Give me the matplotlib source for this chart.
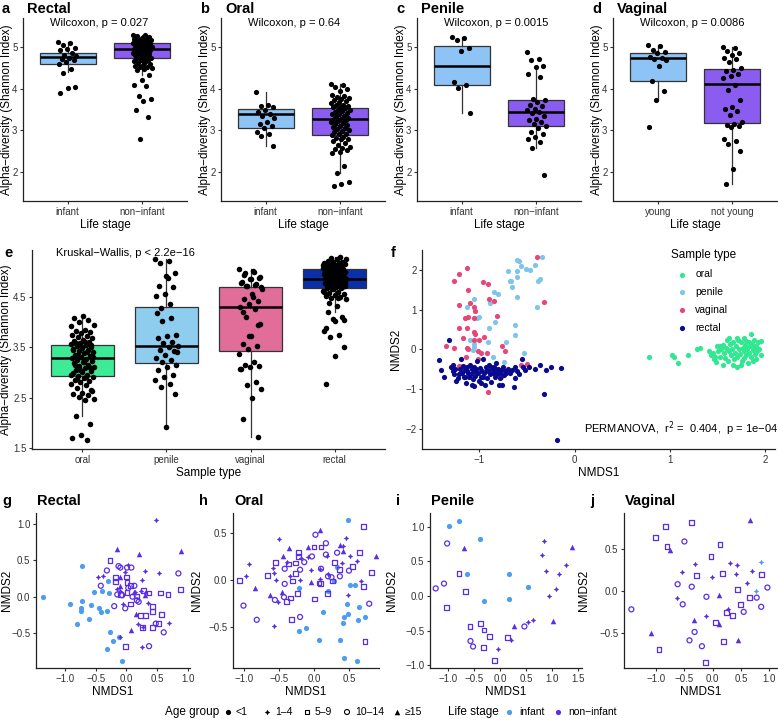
import numpy as np
import matplotlib
matplotlib.use('Agg')
import matplotlib.pyplot as plt

plt.rcParams['font.family'] = ['Liberation Sans', 'DejaVu Sans']

W, H = 778, 721

# ---------------- data: alpha diversity (Shannon) ----------------
rectal_inf = [5.13, 5.1, 5.05, 4.98, 4.95, 4.93, 4.85, 4.8, 4.78, 4.75, 4.72, 4.7,
              4.65, 4.6, 4.48, 4.37, 4.05, 4.02, 3.89]
rectal_non = [5.3, 5.28, 5.26, 5.25, 5.22, 5.2, 5.2, 5.18, 5.17, 5.15, 5.15, 5.13, 5.12,
              5.1, 5.1, 5.08, 5.07, 5.05, 5.05, 5.03, 5.02, 5.0, 5.0, 4.99, 4.98, 4.97,
              4.96, 4.95, 4.95, 4.94, 4.92, 4.9, 4.9, 4.88, 4.87, 4.85, 4.85, 4.83, 4.82,
              4.8, 4.78, 4.77, 4.75, 4.73, 4.72, 4.7, 4.68, 4.67, 4.65, 4.62, 4.6, 4.58,
              4.55, 4.53, 4.52, 4.5, 4.48, 4.45, 4.32, 4.2, 4.1, 4.07, 3.82, 3.75, 3.7,
              3.5, 3.32, 2.78]
oral_inf = [3.93, 3.6, 3.58, 3.55, 3.5, 3.45, 3.4, 3.35, 3.3, 3.2, 3.15, 3.1, 3.05,
            2.95, 2.9, 2.87, 2.63]
oral_non = [4.12, 4.08, 4.05, 4.0, 3.95, 3.85, 3.82, 3.8, 3.78, 3.75, 3.72, 3.7, 3.68,
            3.65, 3.62, 3.6, 3.58, 3.56, 3.55, 3.53, 3.5, 3.48, 3.46, 3.45, 3.42, 3.4,
            3.38, 3.35, 3.33, 3.3, 3.28, 3.27, 3.25, 3.22, 3.2, 3.18, 3.15, 3.12, 3.1,
            3.08, 3.05, 3.02, 3.0, 2.98, 2.95, 2.92, 2.9, 2.88, 2.85, 2.82, 2.8, 2.78,
            2.75, 2.7, 2.65, 2.6, 2.57, 2.55, 2.52, 2.48, 2.45, 2.13, 1.97, 1.75, 1.7, 1.66]
penile_inf = [5.25, 5.22, 5.18, 4.97, 4.91, 4.17, 4.08, 4.02, 3.41]
penile_non = [4.88, 4.72, 4.7, 4.55, 4.52, 4.35, 4.27, 3.75, 3.72, 3.68, 3.6, 3.58, 3.52,
              3.5, 3.45, 3.42, 3.35, 3.28, 3.25, 3.2, 3.15, 3.1, 3.05, 2.95, 2.9, 2.85,
              2.78, 2.72, 2.57, 1.92]
vaginal_young = [5.05, 5.02, 4.93, 4.88, 4.85, 4.77, 4.74, 4.72, 4.7, 4.55, 4.19, 3.94,
                 3.72, 3.07]
vaginal_old = [5.0, 4.97, 4.9, 4.85, 4.8, 4.75, 4.72, 4.65, 4.5, 4.45, 4.42, 4.35, 4.3,
               4.25, 4.1, 3.97, 3.72, 3.57, 3.52, 3.47, 3.37, 3.2, 3.15, 3.12, 3.1, 3.07,
               2.8, 2.75, 2.67, 2.5, 2.07, 1.72]

# box stats: q1, median, q3, whisker low, whisker high
box_a = [(4.60, 4.76, 4.87, 4.40, 5.13), (4.73, 4.96, 5.09, 4.32, 5.30)]
box_b = [(3.06, 3.38, 3.51, 2.63, 3.93), (2.89, 3.28, 3.54, 1.97, 4.12)]
box_c = [(4.09, 4.54, 5.03, 3.41, 5.25), (3.10, 3.44, 3.73, 2.57, 4.55)]
box_d = [(4.18, 4.73, 4.87, 3.72, 5.05), (3.17, 4.12, 4.47, 1.72, 5.00)]
box_e = [(2.93, 3.29, 3.54, 2.13, 4.12), (3.18, 3.52, 4.30, 1.92, 5.25),
         (3.43, 4.30, 4.69, 1.72, 5.05), (4.68, 4.85, 5.05, 4.20, 5.30)]

sample_types = ['oral', 'penile', 'vaginal', 'rectal']

# ---------------- data: NMDS all samples (panel f) ----------------
f_oral = [(0.78, -0.20), (1.02, -0.13), (1.04, -0.20), (1.08, -0.33), (1.19, -0.14),
          (1.28, 0.0), (1.31, 0.04), (1.41, -0.05), (1.43, -0.15), (1.45, -0.10),
          (1.46, -0.25), (1.48, -0.32), (1.49, 0.08), (1.50, -0.05), (1.52, -0.18),
          (1.53, 0.0), (1.55, -0.38), (1.55, 0.12), (1.57, -0.10), (1.58, -0.22),
          (1.59, 0.05), (1.60, 0.25), (1.61, -0.30), (1.62, -0.05), (1.63, 0.15),
          (1.64, -0.15), (1.65, 0.02), (1.66, 0.20), (1.67, -0.25), (1.68, -0.08),
          (1.69, 0.10), (1.70, -0.45), (1.70, -0.18), (1.71, 0.25), (1.72, 0.0),
          (1.73, -0.12), (1.74, 0.18), (1.75, -0.30), (1.76, 0.05), (1.77, -0.05),
          (1.78, 0.28), (1.78, -0.22), (1.79, 0.12), (1.80, -0.15), (1.81, 0.0),
          (1.82, -0.35), (1.83, 0.20), (1.83, -0.08), (1.84, 0.08), (1.85, 0.40),
          (1.85, -0.20), (1.86, 0.15), (1.87, -0.02), (1.87, -0.28), (1.88, 0.25),
          (1.88, 0.05), (1.89, -0.12), (1.90, 0.10), (1.90, -0.25), (1.91, -0.05),
          (1.92, 0.18), (1.93, 0.02), (1.95, 0.22), (1.95, -0.15), (1.74, -0.38),
          (1.66, -0.40), (1.60, 0.0), (1.52, 0.10), (1.47, -0.18), (1.80, 0.22),
          (1.70, 0.30), (1.62, 0.28)]
f_penile = [(-0.60, 2.25), (-0.58, 2.23), (-0.56, 2.10), (-0.60, 1.96), (-0.51, 2.02),
            (-0.47, 2.00), (-0.42, 2.13), (-0.34, 2.32), (-0.36, 1.77), (-0.38, 1.71),
            (-0.70, 1.96), (-0.60, 1.83), (-0.68, 1.72), (-0.67, 1.72), (-0.66, 1.56),
            (-0.60, 1.31), (-0.85, 1.44), (-0.80, 1.39), (-0.89, 1.16), (-0.39, 1.08),
            (-1.05, 1.27), (-1.13, 1.08), (-1.02, 0.78), (-1.00, 0.81), (-0.83, 0.68),
            (-0.90, 0.55), (-0.63, 0.61), (-0.63, 0.36), (-0.91, 0.19), (-0.72, 0.19),
            (-1.05, 0.13), (-1.05, 0.07), (-1.07, -0.02), (-0.86, -0.20), (-0.74, -0.31),
            (-0.53, -0.10), (-1.10, 0.24)]
f_vaginal = [(-0.39, 2.32), (-1.13, 2.04), (-1.21, 1.90), (-1.26, 1.72), (-1.12, 1.50),
             (-0.96, 1.69), (-0.91, 1.64), (-0.90, 1.26), (-0.85, 1.23), (-0.32, 1.20),
             (-1.21, 1.13), (-1.10, 1.16), (-1.05, 1.08), (-1.04, 0.97), (-1.12, 0.81),
             (-1.15, 0.78), (-1.06, 0.78), (-0.81, 0.84), (-1.13, 0.55), (-1.21, 0.53),
             (-1.05, 0.45), (-1.04, 0.40), (-0.95, 0.32), (-1.17, 0.28), (-1.06, 0.25),
             (-1.00, 0.24), (-1.35, 0.08), (-1.26, 0.05), (-1.13, 0.05), (-1.12, 0.01),
             (-1.01, -0.03), (-0.98, -0.08), (-0.92, -0.10), (-0.76, 0.08), (-0.73, -0.03),
             (-1.14, -0.20), (-1.01, -0.23), (-1.21, -0.42), (-0.50, -0.37), (-0.56, -0.39),
             (-0.77, -0.69), (-0.91, -1.07)]
f_rectal = [(-1.42, -0.27), (-1.40, -0.52), (-1.37, -0.68), (-1.32, 0.24), (-1.30, -0.45),
            (-1.28, -0.55), (-1.26, -0.62), (-1.25, -0.48), (-1.24, -0.78), (-1.22, -0.72),
            (-1.20, -0.50), (-1.19, -0.25), (-1.18, -0.60), (-1.17, -0.42), (-1.16, -0.68),
            (-1.15, -0.52), (-1.14, -0.83), (-1.13, -0.45), (-1.12, -0.58), (-1.11, -0.70),
            (-1.10, -0.38), (-1.09, -0.62), (-1.08, -0.50), (-1.07, -0.75), (-1.06, -0.44),
            (-1.05, -0.92), (-1.05, -0.55), (-1.04, -0.66), (-1.03, -0.48), (-1.02, -0.30),
            (-1.01, -0.58), (-1.00, -0.80), (-0.99, -0.46), (-0.98, -0.68), (-0.97, -0.53),
            (-0.96, -0.25), (-0.95, -0.60), (-0.94, -0.90), (-0.93, -0.45), (-0.92, -0.72),
            (-0.91, -0.55), (-0.90, -0.40), (-0.89, -0.62), (-0.88, -0.82), (-0.87, -0.50),
            (-0.86, -0.60), (-0.85, -0.45), (-0.84, -0.70), (-0.83, -0.55), (-0.82, -0.35),
            (-0.81, -0.62), (-0.80, -0.48), (-0.79, -0.90), (-0.78, -0.58), (-0.77, -0.52),
            (-0.76, -0.88), (-0.75, -0.45), (-0.74, -0.65), (-0.73, -0.55), (-0.72, -0.60),
            (-0.70, -0.48), (-0.68, -0.58), (-0.66, -0.52), (-0.64, -0.95), (-0.63, -0.72),
            (-0.62, -0.45), (-0.60, -0.55), (-0.58, -0.62), (-0.55, -0.25), (-0.54, -0.45),
            (-0.52, -0.52), (-0.48, -0.45), (-0.42, -0.48), (-0.36, -0.40), (-0.32, -1.13),
            (-0.30, -0.52), (-0.25, -0.45), (-0.14, -0.47), (-0.18, -2.27), (-1.21, -0.62),
            (-1.15, -0.70), (-1.08, -0.88), (-0.98, -0.85), (-1.27, -0.40), (-0.92, -0.52),
            (-0.88, -0.45), (-0.78, -0.72), (-1.13, -0.55), (-1.02, -0.60), (-0.96, -0.70)]

# ---------------- data: NMDS per site, (x, y, age group, life stage) ----------------
# age: 0 '<1', 1 '1-4', 2 '5-9', 3 '10-14', 4 '>=15'; stage: 'I' infant, 'N' non-infant
g_pts = [(-1.36, -0.01, 0, 'I'), (-0.92, -0.10, 0, 'I'), (-0.73, 0.42, 0, 'I'), (-0.73, -0.06, 0, 'I'),
         (-0.75, -0.16, 0, 'I'), (-0.75, -0.20, 0, 'I'), (-0.81, -0.37, 0, 'I'), (-0.62, -0.30, 0, 'I'),
         (-0.58, -0.11, 0, 'I'), (-0.53, 0.06, 0, 'I'), (-0.45, -0.15, 0, 'I'), (-0.42, -0.21, 0, 'I'),
         (-0.40, 0.08, 0, 'I'), (-0.32, -0.20, 0, 'I'), (-0.31, 0.21, 0, 'I'), (-0.29, 0.05, 0, 'I'),
         (-0.27, -0.48, 0, 'I'), (-0.22, -0.61, 0, 'I'), (-0.32, -0.72, 0, 'I'), (-0.12, -0.56, 0, 'I'),
         (-0.07, -0.88, 0, 'I'),
         (0.48, 1.05, 1, 'N'), (-0.03, 0.34, 1, 'N'), (-0.47, 0.27, 1, 'N'), (-0.38, 0.28, 1, 'N'),
         (0.31, 0.35, 1, 'N'), (0.54, 0.33, 1, 'N'), (0.26, 0.23, 1, 'N'), (-0.10, 0.08, 1, 'N'),
         (0.14, 0.07, 1, 'N'), (0.24, 0.08, 1, 'N'), (-0.06, -0.10, 1, 'N'), (0.35, -0.09, 1, 'N'),
         (0.19, -0.38, 1, 'N'), (0.27, -0.42, 1, 'N'), (0.69, -0.36, 1, 'N'), (-0.10, -0.56, 1, 'N'),
         (0.25, -0.69, 1, 'N'), (0.02, 0.43, 1, 'N'), (-0.15, 0.11, 1, 'N'), (0.30, 0.05, 1, 'N'),
         (-0.16, 0.66, 4, 'N'), (0.20, 0.58, 4, 'N'), (0.90, 0.63, 4, 'N'), (-0.11, 0.14, 4, 'N'),
         (0.12, 0.06, 4, 'N'), (0.16, -0.24, 4, 'N'), (0.08, -0.46, 4, 'N'), (0.31, 0.02, 4, 'N'),
         (-0.10, 0.27, 4, 'N'),
         (-0.27, 0.50, 2, 'N'), (-0.18, 0.26, 2, 'N'), (-0.18, 0.21, 2, 'N'), (0.0, 0.27, 2, 'N'),
         (0.01, 0.20, 2, 'N'), (0.01, 0.06, 2, 'N'), (0.07, 0.15, 2, 'N'), (0.07, -0.10, 2, 'N'),
         (0.17, 0.01, 2, 'N'), (0.23, -0.26, 2, 'N'), (0.31, -0.26, 2, 'N'), (0.26, -0.42, 2, 'N'),
         (0.37, 0.05, 2, 'N'), (0.43, -0.14, 2, 'N'), (0.43, -0.20, 2, 'N'), (0.42, -0.42, 2, 'N'),
         (0.56, 0.05, 2, 'N'), (0.68, 0.03, 2, 'N'), (0.89, 0.10, 2, 'N'), (0.57, -0.24, 2, 'N'),
         (0.53, -0.37, 2, 'N'), (-0.02, -0.68, 2, 'N'), (-0.10, 0.03, 2, 'N'), (0.28, 0.08, 2, 'N'),
         (-0.32, 0.36, 3, 'N'), (-0.13, 0.42, 3, 'N'), (-0.10, 0.40, 3, 'N'), (0.01, 0.40, 3, 'N'),
         (0.08, 0.40, 3, 'N'), (-0.42, 0.15, 3, 'N'), (-0.20, -0.13, 3, 'N'), (-0.02, -0.16, 3, 'N'),
         (0.03, 0.12, 3, 'N'), (0.13, 0.15, 3, 'N'), (-0.15, 0.03, 3, 'N'), (-0.07, 0.02, 3, 'N'),
         (0.17, -0.05, 3, 'N'), (0.20, -0.07, 3, 'N'), (0.48, -0.37, 3, 'N'), (0.61, -0.49, 3, 'N'),
         (0.37, -0.68, 3, 'N'), (0.85, 0.32, 3, 'N'), (0.10, 0.0, 3, 'N')]

h_pts = [(0.48, 0.64, 0, 'I'), (-0.22, -0.08, 0, 'I'), (0.20, -0.12, 0, 'I'), (0.33, 0.14, 0, 'I'),
         (0.13, -0.34, 0, 'I'), (-0.11, -0.51, 0, 'I'), (-0.22, -0.54, 0, 'I'), (0.07, -0.63, 0, 'I'),
         (0.37, -0.63, 0, 'I'), (0.43, -0.39, 0, 'I'), (0.47, -0.25, 0, 'I'), (0.49, -0.36, 0, 'I'),
         (0.42, -0.45, 0, 'I'), (0.51, -0.05, 0, 'I'), (0.58, -0.05, 0, 'I'), (0.64, -0.28, 0, 'I'),
         (0.63, -0.42, 0, 'I'), (0.73, -0.39, 0, 'I'), (0.43, -0.82, 0, 'I'), (0.62, -0.86, 0, 'I'),
         (0.28, -0.01, 0, 'I'),
         (-0.50, 0.43, 1, 'N'), (-0.93, 0.17, 1, 'N'), (-0.97, 0.04, 1, 'N'), (-0.59, 0.13, 1, 'N'),
         (-0.57, 0.08, 1, 'N'), (-0.55, 0.0, 1, 'N'), (-0.51, -0.23, 1, 'N'), (-0.58, -0.49, 1, 'N'),
         (-0.38, 0.19, 1, 'N'), (-0.35, 0.04, 1, 'N'), (-0.20, 0.0, 1, 'N'), (-0.19, 0.23, 1, 'N'),
         (-0.08, 0.24, 1, 'N'), (0.09, 0.12, 1, 'N'), (0.08, 0.01, 1, 'N'), (0.18, 0.26, 1, 'N'),
         (0.20, 0.06, 1, 'N'), (0.46, 0.45, 1, 'N'), (0.41, 0.36, 1, 'N'), (0.52, 0.26, 1, 'N'),
         (0.61, 0.20, 1, 'N'), (0.40, 0.18, 1, 'N'), (0.49, -0.16, 1, 'N'), (0.67, -0.01, 1, 'N'),
         (-0.05, 0.11, 1, 'N'),
         (-0.84, -0.08, 4, 'N'), (-0.63, -0.16, 4, 'N'), (-0.46, -0.13, 4, 'N'), (-0.36, 0.34, 4, 'N'),
         (-0.44, 0.26, 4, 'N'), (-0.09, 0.35, 4, 'N'), (0.09, 0.53, 4, 'N'), (-0.04, -0.02, 4, 'N'),
         (0.37, 0.37, 4, 'N'), (0.42, 0.31, 4, 'N'), (0.88, 0.26, 4, 'N'),
         (-1.07, 0.0, 2, 'N'), (-0.67, 0.05, 2, 'N'), (-0.55, 0.19, 2, 'N'), (-0.36, 0.17, 2, 'N'),
         (-0.39, -0.23, 2, 'N'), (-0.34, -0.19, 2, 'N'), (-0.31, -0.01, 2, 'N'), (-0.27, 0.07, 2, 'N'),
         (-0.26, 0.18, 2, 'N'), (-0.24, -0.14, 2, 'N'), (-0.22, 0.29, 2, 'N'), (-0.22, 0.25, 2, 'N'),
         (-0.32, -0.42, 2, 'N'), (0.01, -0.20, 2, 'N'), (0.0, 0.35, 2, 'N'), (0.10, 0.35, 2, 'N'),
         (0.07, -0.03, 2, 'N'), (0.09, -0.04, 2, 'N'), (0.19, -0.14, 2, 'N'), (0.26, -0.01, 2, 'N'),
         (0.29, 0.19, 2, 'N'), (0.37, 0.11, 2, 'N'), (0.55, 0.14, 2, 'N'), (0.65, 0.29, 2, 'N'),
         (0.71, 0.57, 2, 'N'), (0.82, 0.08, 2, 'N'), (0.71, -0.07, 2, 'N'), (0.73, -0.65, 2, 'N'),
         (-1.01, -0.27, 3, 'N'), (-0.82, -0.42, 3, 'N'), (-0.56, -0.21, 3, 'N'), (-0.43, -0.18, 3, 'N'),
         (-0.42, -0.04, 3, 'N'), (-0.42, 0.12, 3, 'N'), (-0.20, -0.39, 3, 'N'), (-0.20, 0.11, 3, 'N'),
         (-0.14, 0.19, 3, 'N'), (-0.03, 0.25, 3, 'N'), (0.02, 0.48, 3, 'N'), (0.17, 0.27, 3, 'N'),
         (0.17, 0.39, 3, 'N'), (0.10, 0.12, 3, 'N'), (0.20, 0.04, 3, 'N'), (0.33, 0.29, 3, 'N'),
         (0.37, 0.04, 3, 'N'), (0.50, 0.10, 3, 'N'), (0.79, -0.25, 3, 'N'), (0.25, 0.03, 3, 'N')]

i_pts = [(-0.98, 1.01, 0, 'I'), (-0.79, 1.08, 0, 'I'), (-0.39, 0.82, 0, 'I'), (-0.63, 0.32, 0, 'I'),
         (0.18, 0.32, 0, 'I'), (0.53, 0.13, 0, 'I'), (-0.30, -0.07, 0, 'I'), (0.17, -0.04, 0, 'I'),
         (0.84, 0.79, 1, 'N'), (0.81, 0.60, 1, 'N'), (0.89, 0.36, 1, 'N'), (1.28, 0.45, 1, 'N'),
         (1.13, 0.32, 1, 'N'), (1.08, 0.10, 1, 'N'), (0.95, 0.0, 1, 'N'), (0.63, -0.34, 1, 'N'),
         (0.54, -0.37, 1, 'N'), (0.21, -0.64, 1, 'N'), (-0.03, -0.76, 1, 'N'),
         (-0.70, 0.70, 4, 'N'), (1.39, 0.71, 4, 'N'), (0.26, -0.44, 4, 'N'), (1.02, -0.36, 4, 'N'),
         (-0.79, 0.33, 2, 'N'), (-0.66, 0.07, 2, 'N'), (-1.03, -0.17, 2, 'N'), (-0.58, -0.44, 2, 'N'),
         (-0.37, -0.40, 2, 'N'), (-0.31, -0.49, 2, 'N'), (-0.21, -0.59, 2, 'N'), (-0.32, -0.74, 2, 'N'),
         (-0.11, -0.93, 2, 'N'), (0.15, -0.60, 2, 'N'),
         (-1.02, 0.76, 3, 'N'), (-1.24, 0.11, 3, 'N'), (-1.08, 0.18, 3, 'N'), (-0.57, -0.65, 3, 'N'),
         (-0.52, -0.73, 3, 'N'), (0.47, -0.44, 3, 'N')]

j_pts = [(0.85, 0.35, 1, 'I'), (0.76, 0.0, 1, 'I'),
         (-0.32, 0.32, 1, 'N'), (-0.54, 0.23, 1, 'N'), (-0.01, 0.17, 1, 'N'), (0.31, 0.33, 1, 'N'),
         (0.44, 0.31, 1, 'N'), (0.41, 0.20, 1, 'N'), (0.69, 0.24, 1, 'N'), (0.61, 0.10, 1, 'N'),
         (-0.64, -0.08, 1, 'N'), (-0.12, -0.30, 1, 'N'), (0.28, -0.22, 1, 'N'),
         (0.67, 0.85, 4, 'N'), (-0.76, 0.49, 4, 'N'), (0.12, -0.05, 4, 'N'), (-0.33, -0.35, 4, 'N'),
         (0.11, -0.40, 4, 'N'), (-1.10, -0.50, 4, 'N'), (0.45, -0.59, 4, 'N'),
         (-0.37, 0.82, 2, 'N'), (-0.84, 0.77, 2, 'N'), (-1.01, 0.64, 2, 'N'), (-0.81, 0.53, 2, 'N'),
         (0.13, 0.55, 2, 'N'), (-0.03, 0.41, 2, 'N'), (-0.28, 0.18, 2, 'N'), (0.18, 0.21, 2, 'N'),
         (0.86, 0.20, 2, 'N'), (0.44, 0.02, 2, 'N'), (0.66, -0.08, 2, 'N'), (0.50, -0.16, 2, 'N'),
         (0.24, -0.26, 2, 'N'), (0.35, -0.29, 2, 'N'), (0.05, -0.38, 2, 'N'), (0.19, -0.60, 2, 'N'),
         (-0.95, -0.70, 2, 'N'), (-0.12, -0.85, 2, 'N'),
         (-0.50, 0.59, 3, 'N'), (-0.62, 0.08, 3, 'N'), (-0.37, 0.05, 3, 'N'), (-0.11, -0.07, 3, 'N'),
         (-1.44, -0.22, 3, 'N'), (-0.53, -0.16, 3, 'N'), (0.55, -0.25, 3, 'N'), (0.78, -0.08, 3, 'N'),
         (0.97, 0.04, 3, 'N'), (0.86, -0.19, 3, 'N'), (-0.32, -0.49, 3, 'N'), (-0.41, -0.59, 3, 'N'),
         (-0.19, -0.66, 3, 'N')]

age_labels = ['<1', '1–4', '5–9', '10–14', '≥15']
stage_labels = ['infant', 'non−infant']

# ---------------- style ----------------
c_inf_box, c_non_box = '#8EC3F5', '#8B5CF0'
box_cols_e = ['#3DEB97', '#8FCDEE', '#E16D99', '#0B2FA6']
pt_cols_f = ['#2FE890', '#7CC6EC', '#E6467A', '#0A0A8F']
c_inf, c_non = '#4C9CF0', '#5A2EE6'
markers = ['o', (4, 1, 0), 's', 'o', '^']
msizes = [14, 16, 12, 13, 16]
ylab = 'Alpha−diversity (Shannon Index)'


def pos(l, t, r, b):
    return [l / W, 1 - b / H, (r - l) / W, (b - t) / H]


def style(ax):
    for s in ['top', 'right']:
        ax.spines[s].set_visible(False)
    for s in ['left', 'bottom']:
        ax.spines[s].set_linewidth(0.9)
        ax.spines[s].set_color('#222222')
    ax.tick_params(labelsize=7, length=2.5, width=0.8, color='#333333', labelcolor='#333333', pad=1.5)


def jitter(n, w):
    # deterministic spread of the points around the category centre
    return ((np.arange(n) * 0.618034) % 1 - 0.5) * 2 * w


def boxes(ax, stats, cols):
    bx = [dict(q1=s[0], med=s[1], q3=s[2], whislo=s[3], whishi=s[4], fliers=[]) for s in stats]
    art = ax.bxp(bx, positions=range(1, len(stats) + 1), widths=0.75, patch_artist=True,
                 showcaps=False, showfliers=False,
                 boxprops=dict(edgecolor='#333333', linewidth=0.9),
                 whiskerprops=dict(color='#333333', linewidth=0.9),
                 medianprops=dict(color='black', linewidth=1.8))
    for p, c in zip(art['boxes'], cols):
        p.set_facecolor(c)


def labels(ax, xl, yl, ycoord):
    ax.set_xlabel(xl, fontsize=8.5, labelpad=2)
    ax.set_ylabel(yl, fontsize=8.5)
    ax.yaxis.set_label_coords(ycoord, 0.5)


fig = plt.figure(figsize=(W / 100, H / 100), dpi=100)

# ---------------- row 1: a-d ----------------
row1 = [('a', 'Rectal', 23, box_a, [rectal_inf, rectal_non], ['infant', 'non−infant'], '0.027'),
        ('b', 'Oral', 221, box_b, [oral_inf, oral_non], ['infant', 'non−infant'], '0.64'),
        ('c', 'Penile', 417, box_c, [penile_inf, penile_non], ['infant', 'non−infant'], '0.0015'),
        ('d', 'Vaginal', 613, box_d, [vaginal_young, vaginal_old], ['young', 'not young'], '0.0086')]
for letter, title, left, bst, groups, labs, p in row1:
    ax = fig.add_axes(pos(left, 18, left + 164, 201))
    style(ax)
    boxes(ax, bst, [c_inf_box, c_non_box])
    for k, vals in enumerate(groups):
        ax.scatter(k + 1 + jitter(len(vals), 0.13), vals, s=14, color='black', zorder=3, linewidths=0)
    ax.set_xlim(0.4, 2.6)
    ax.set_ylim(1.3, 5.7)
    ax.set_yticks([2, 3, 4, 5])
    ax.set_xticks([1, 2])
    ax.set_xticklabels(labs)
    labels(ax, 'Life stage', ylab, -0.06)
    ax.text(0.76, 5.57, 'Wilcoxon, p = ' + p, fontsize=8, ha='left', va='center')
    fig.text((left - 21) / W, 1 - 9 / H, letter, fontsize=10.5, fontweight='bold', va='center')
    fig.text((left + 4) / W, 1 - 9 / H, title, fontsize=10.5, fontweight='bold', va='center')

# ---------------- panel e ----------------
ax = fig.add_axes(pos(32, 250, 385, 449))
style(ax)
boxes(ax, box_e, box_cols_e)
e_groups = [oral_inf + oral_non, penile_inf + penile_non,
            vaginal_young + vaginal_old, rectal_inf + rectal_non]
for k, vals in enumerate(e_groups):
    ax.scatter(k + 1 + jitter(len(vals), 0.14), vals, s=16, color='black', zorder=3, linewidths=0)
ax.set_xlim(0.4, 4.6)
ax.set_ylim(1.48, 5.43)
ax.set_yticks([1.5, 2.5, 3.5, 4.5])
ax.set_xticks([1, 2, 3, 4])
ax.set_xticklabels(sample_types)
labels(ax, 'Sample type', ylab, -0.057)
ax.text(0.68, 5.37, 'Kruskal−Wallis, p < 2.2e−16', fontsize=8, ha='left', va='center')
fig.text(4 / W, 1 - 253 / H, 'e', fontsize=10.5, fontweight='bold', va='center')

# ---------------- panel f ----------------
ax = fig.add_axes(pos(422, 250, 775, 449))
style(ax)
for pts, c, lab in zip([f_oral, f_penile, f_vaginal, f_rectal], pt_cols_f, sample_types):
    arr = np.array(pts)
    ax.scatter(arr[:, 0], arr[:, 1], s=14, color=c, linewidths=0, label=lab)
ax.set_xlim(-1.6, 2.1)
ax.set_ylim(-2.5, 2.5)
ax.set_xticks([-1, 0, 1, 2])
ax.set_xticklabels(['−1', '0', '1', '2'])
ax.set_yticks([-2, -1, 0, 1, 2])
ax.set_yticklabels(['−2', '−1', '0', '1', '2'])
labels(ax, 'NMDS1', 'NMDS2', -0.057)
ax.text(0.1, -2.0, 'PERMANOVA,  r$^2$ =  0.404,  p = 1e−04', fontsize=8, ha='left', va='center')
ax.legend(title='Sample type', loc='upper left', bbox_to_anchor=(0.68, 1.05), frameon=False,
          fontsize=7.5, title_fontsize=8.5, handletextpad=0.3, labelspacing=0.75,
          markerscale=1.0, alignment='left')
fig.text(391 / W, 1 - 253 / H, 'f', fontsize=10.5, fontweight='bold', va='center')

# ---------------- row 3: g-j ----------------
row3 = [('g', 'Rectal', (36, 190), (-1.48, 1.04), (-0.98, 1.15), [-1.0, -0.5, 0.0, 0.5, 1.0],
         [-0.5, 0.0, 0.5, 1.0], g_pts, -0.15),
        ('h', 'Oral', (233, 379), (-1.16, 0.93), (-0.93, 0.71), [-1.0, -0.5, 0.0, 0.5],
         [-0.5, 0.0, 0.5], h_pts, -0.205),
        ('i', 'Penile', (430, 582), (-1.35, 1.58), (-1.04, 1.2), [-1.0, -0.5, 0.0, 0.5, 1.0, 1.5],
         [-1.0, -0.5, 0.0, 0.5, 1.0], i_pts, -0.21),
        ('j', 'Vaginal', (624, 777), (-1.57, 1.14), (-0.92, 0.93), [-1.0, -0.5, 0.0, 0.5, 1.0],
         [-0.5, 0.0, 0.5], j_pts, -0.22)]
for letter, title, (l, r), xl, yl, xt, yt, pts, yc in row3:
    ax = fig.add_axes(pos(l, 513, r, 668))
    style(ax)
    for x, y, age, st in pts:
        c = c_inf if st == 'I' else c_non
        if age in (2, 3):
            ax.scatter([x], [y], marker=markers[age], s=msizes[age], facecolors='none',
                       edgecolors=c, linewidths=0.9)
        else:
            ax.scatter([x], [y], marker=markers[age], s=msizes[age], color=c, linewidths=0)
    ax.set_xlim(*xl)
    ax.set_ylim(*yl)
    ax.set_xticks(xt)
    ax.set_xticklabels([f'{v:.1f}'.replace('-', '−') for v in xt])
    ax.set_yticks(yt)
    ax.set_yticklabels([f'{v:.1f}'.replace('-', '−') for v in yt])
    labels(ax, 'NMDS1', 'NMDS2', yc)
    fig.text((l - 34) / W, 1 - 501 / H, letter, fontsize=10.5, fontweight='bold', va='center')
    fig.text((l + 1) / W, 1 - 501 / H, title, fontsize=10.5, fontweight='bold', va='center')

# ---------------- bottom legend (pixel coordinates) ----------------
lax = fig.add_axes([0, 0, 1, 20 / H])
lax.set_xlim(0, W)
lax.set_ylim(20, 0)
lax.axis('off')
ly = 11
lax.text(165, ly, 'Age group', fontsize=8.5, va='center')
age_x = [228, 267, 307, 347, 397]
for k, (x, lab) in enumerate(zip(age_x, age_labels)):
    if k in (2, 3):
        lax.scatter([x], [ly], marker=markers[k], s=msizes[k], facecolors='none',
                    edgecolors='black', linewidths=0.8)
    else:
        lax.scatter([x], [ly], marker=markers[k], s=msizes[k], color='black', linewidths=0)
    lax.text(x + 8, ly, lab, fontsize=7.5, va='center')
lax.text(448, ly, 'Life stage', fontsize=8.5, va='center')
for x, c, lab in zip([509, 558], [c_inf, c_non], stage_labels):
    lax.scatter([x], [ly], marker='o', s=14, color=c, linewidths=0)
    lax.text(x + 10, ly, lab, fontsize=7.5, va='center')

fig.savefig('out.png', dpi=100)
